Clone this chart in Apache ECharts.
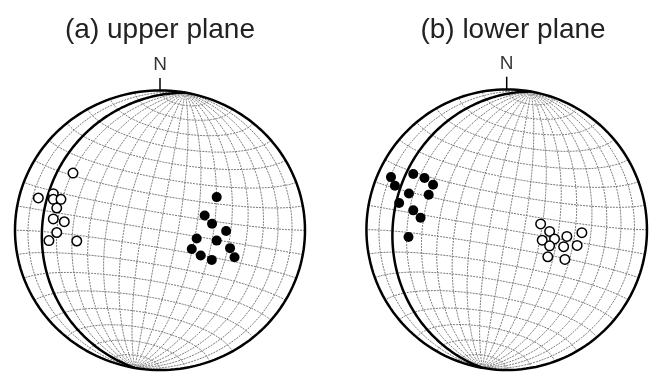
<!DOCTYPE html>
<html>
<head>
<meta charset="utf-8">
<script src="https://cdn.jsdelivr.net/npm/echarts@6/dist/echarts.min.js"></script>
<style>
  html, body { margin: 0; padding: 0; background: #fff; }
  #chart { width: 661px; height: 384px; }
</style>
</head>
<body>
<div id="chart"></div>
<script>
// panel titles and the north mark
const titles = ['(a) upper plane', '(b) lower plane']
const northLabel = 'N'

// net settings: 10 degree equal-area net, turned 10 degrees clockwise, plane dipping 20 degrees west
const netStep = 10
const netRotation = 10
const planeDip = 20

// poles in net coordinates (primitive radius = 1)
const upperOpen = [
  [-0.600, 0.409], [-0.839, 0.231], [-0.736, 0.262], [-0.736, 0.221], [-0.683, 0.221], [-0.712, 0.159],
  [-0.736, 0.081], [-0.660, 0.061], [-0.712, -0.016], [-0.766, -0.074], [-0.574, -0.077]
]
const upperFilled = [
  [0.391, 0.237], [0.308, 0.105], [0.359, 0.046], [0.456, -0.005], [0.253, -0.059], [0.391, -0.074],
  [0.219, -0.134], [0.483, -0.128], [0.281, -0.181], [0.357, -0.212], [0.514, -0.193]
]
const lowerFilled = [
  [-0.825, 0.375], [-0.797, 0.313], [-0.666, 0.397], [-0.586, 0.368], [-0.525, 0.320], [-0.697, 0.258],
  [-0.556, 0.249], [-0.767, 0.190], [-0.666, 0.138], [-0.614, 0.085], [-0.700, -0.052]
]
const lowerOpen = [
  [0.242, 0.041], [0.306, -0.012], [0.536, -0.021], [0.253, -0.075], [0.341, -0.066], [0.429, -0.048],
  [0.306, -0.115], [0.406, -0.121], [0.502, -0.112], [0.293, -0.193], [0.415, -0.212]
]

// where each net sits on the page
const panels = [
  { cx: 160, cy: 236, r: 145, open: upperOpen, filled: upperFilled },
  { cx: 513, cy: 236, r: 146, open: lowerOpen, filled: lowerFilled }
]

const rad = Math.PI / 180

// lower hemisphere equal-area projection, then turn the net
function project(v) {
  const [x, y, z] = v
  const h = Math.hypot(x, y)
  const r = Math.sqrt(Math.max(0, 1 + z))
  let X = 0, Y = 0
  if (h > 1e-12) {
    X = r * x / h
    Y = r * y / h
  }
  const a = netRotation * rad
  return [X * Math.cos(a) + Y * Math.sin(a), -X * Math.sin(a) + Y * Math.cos(a)]
}

function greatCircle(d) {
  const pts = []
  for (let t = 0; t <= 180; t += 1) {
    pts.push(project([Math.sin(t * rad) * Math.cos(d * rad), Math.cos(t * rad), -Math.sin(t * rad) * Math.sin(d * rad)]))
  }
  return pts
}

function smallCircle(b) {
  const pts = []
  for (let p = 0; p <= 180; p += 2) {
    pts.push(project([Math.sin(b * rad) * Math.cos(p * rad), Math.cos(b * rad), -Math.sin(b * rad) * Math.sin(p * rad)]))
  }
  return pts
}

const netLines = []
for (let d = netStep; d < 180; d += netStep) netLines.push(greatCircle(d))
for (let b = netStep; b < 180; b += netStep) netLines.push(smallCircle(b))

const primitive = []
for (let p = 0; p <= 360; p += 2) primitive.push([Math.cos(p * rad), Math.sin(p * rad)])
const planeLine = greatCircle(180 - planeDip)

const chart = echarts.init(document.getElementById('chart'))

const series = []
panels.forEach((p, i) => {
  const ax = { xAxisIndex: i, yAxisIndex: i }
  series.push({
    type: 'lines', ...ax, coordinateSystem: 'cartesian2d', polyline: true, silent: true,
    data: netLines.map(c => ({ coords: c })),
    lineStyle: { color: '#767676', width: 1, type: [2, 1], opacity: 1 }
  })
  series.push({
    type: 'lines', ...ax, coordinateSystem: 'cartesian2d', polyline: true, silent: true,
    data: [{ coords: primitive }, { coords: planeLine }],
    lineStyle: { color: '#000', width: 2.5, opacity: 1 }
  })
  series.push({
    type: 'lines', ...ax, coordinateSystem: 'cartesian2d', polyline: true, silent: true,
    data: [{ coords: [[0, 1], [0, 1.09]] }],
    lineStyle: { color: '#000', width: 1.5, opacity: 1 }
  })
  series.push({
    type: 'scatter', ...ax, silent: true, symbolSize: 0,
    data: [[0, 1.09]],
    label: {
      show: true, position: 'top', distance: 4, formatter: northLabel,
      fontSize: 19, fontFamily: 'Liberation Sans', color: '#000'
    }
  })
  series.push({
    type: 'scatter', ...ax, silent: true, symbol: 'circle', symbolSize: 9.5,
    data: p.open,
    itemStyle: { color: '#fff', borderColor: '#000', borderWidth: 1.5, opacity: 1 }
  })
  series.push({
    type: 'scatter', ...ax, silent: true, symbol: 'circle', symbolSize: 10,
    data: p.filled,
    itemStyle: { color: '#000', opacity: 1 }
  })
})

chart.setOption({
  animation: false,
  grid: panels.map(p => ({
    left: p.cx - 1.1 * p.r, top: p.cy - 1.1 * p.r, width: 2.2 * p.r, height: 2.2 * p.r
  })),
  xAxis: panels.map((p, i) => ({ type: 'value', gridIndex: i, min: -1.1, max: 1.1, show: false })),
  yAxis: panels.map((p, i) => ({ type: 'value', gridIndex: i, min: -1.1, max: 1.1, show: false })),
  graphic: panels.map((p, i) => ({
    type: 'text', x: p.cx, y: 30,
    style: {
      text: titles[i], fontSize: 28, fontFamily: 'Liberation Sans', fill: '#222',
      align: 'center', verticalAlign: 'middle', textAlign: 'center', textVerticalAlign: 'middle'
    }
  })),
  series: series
})
</script>
</body>
</html>
